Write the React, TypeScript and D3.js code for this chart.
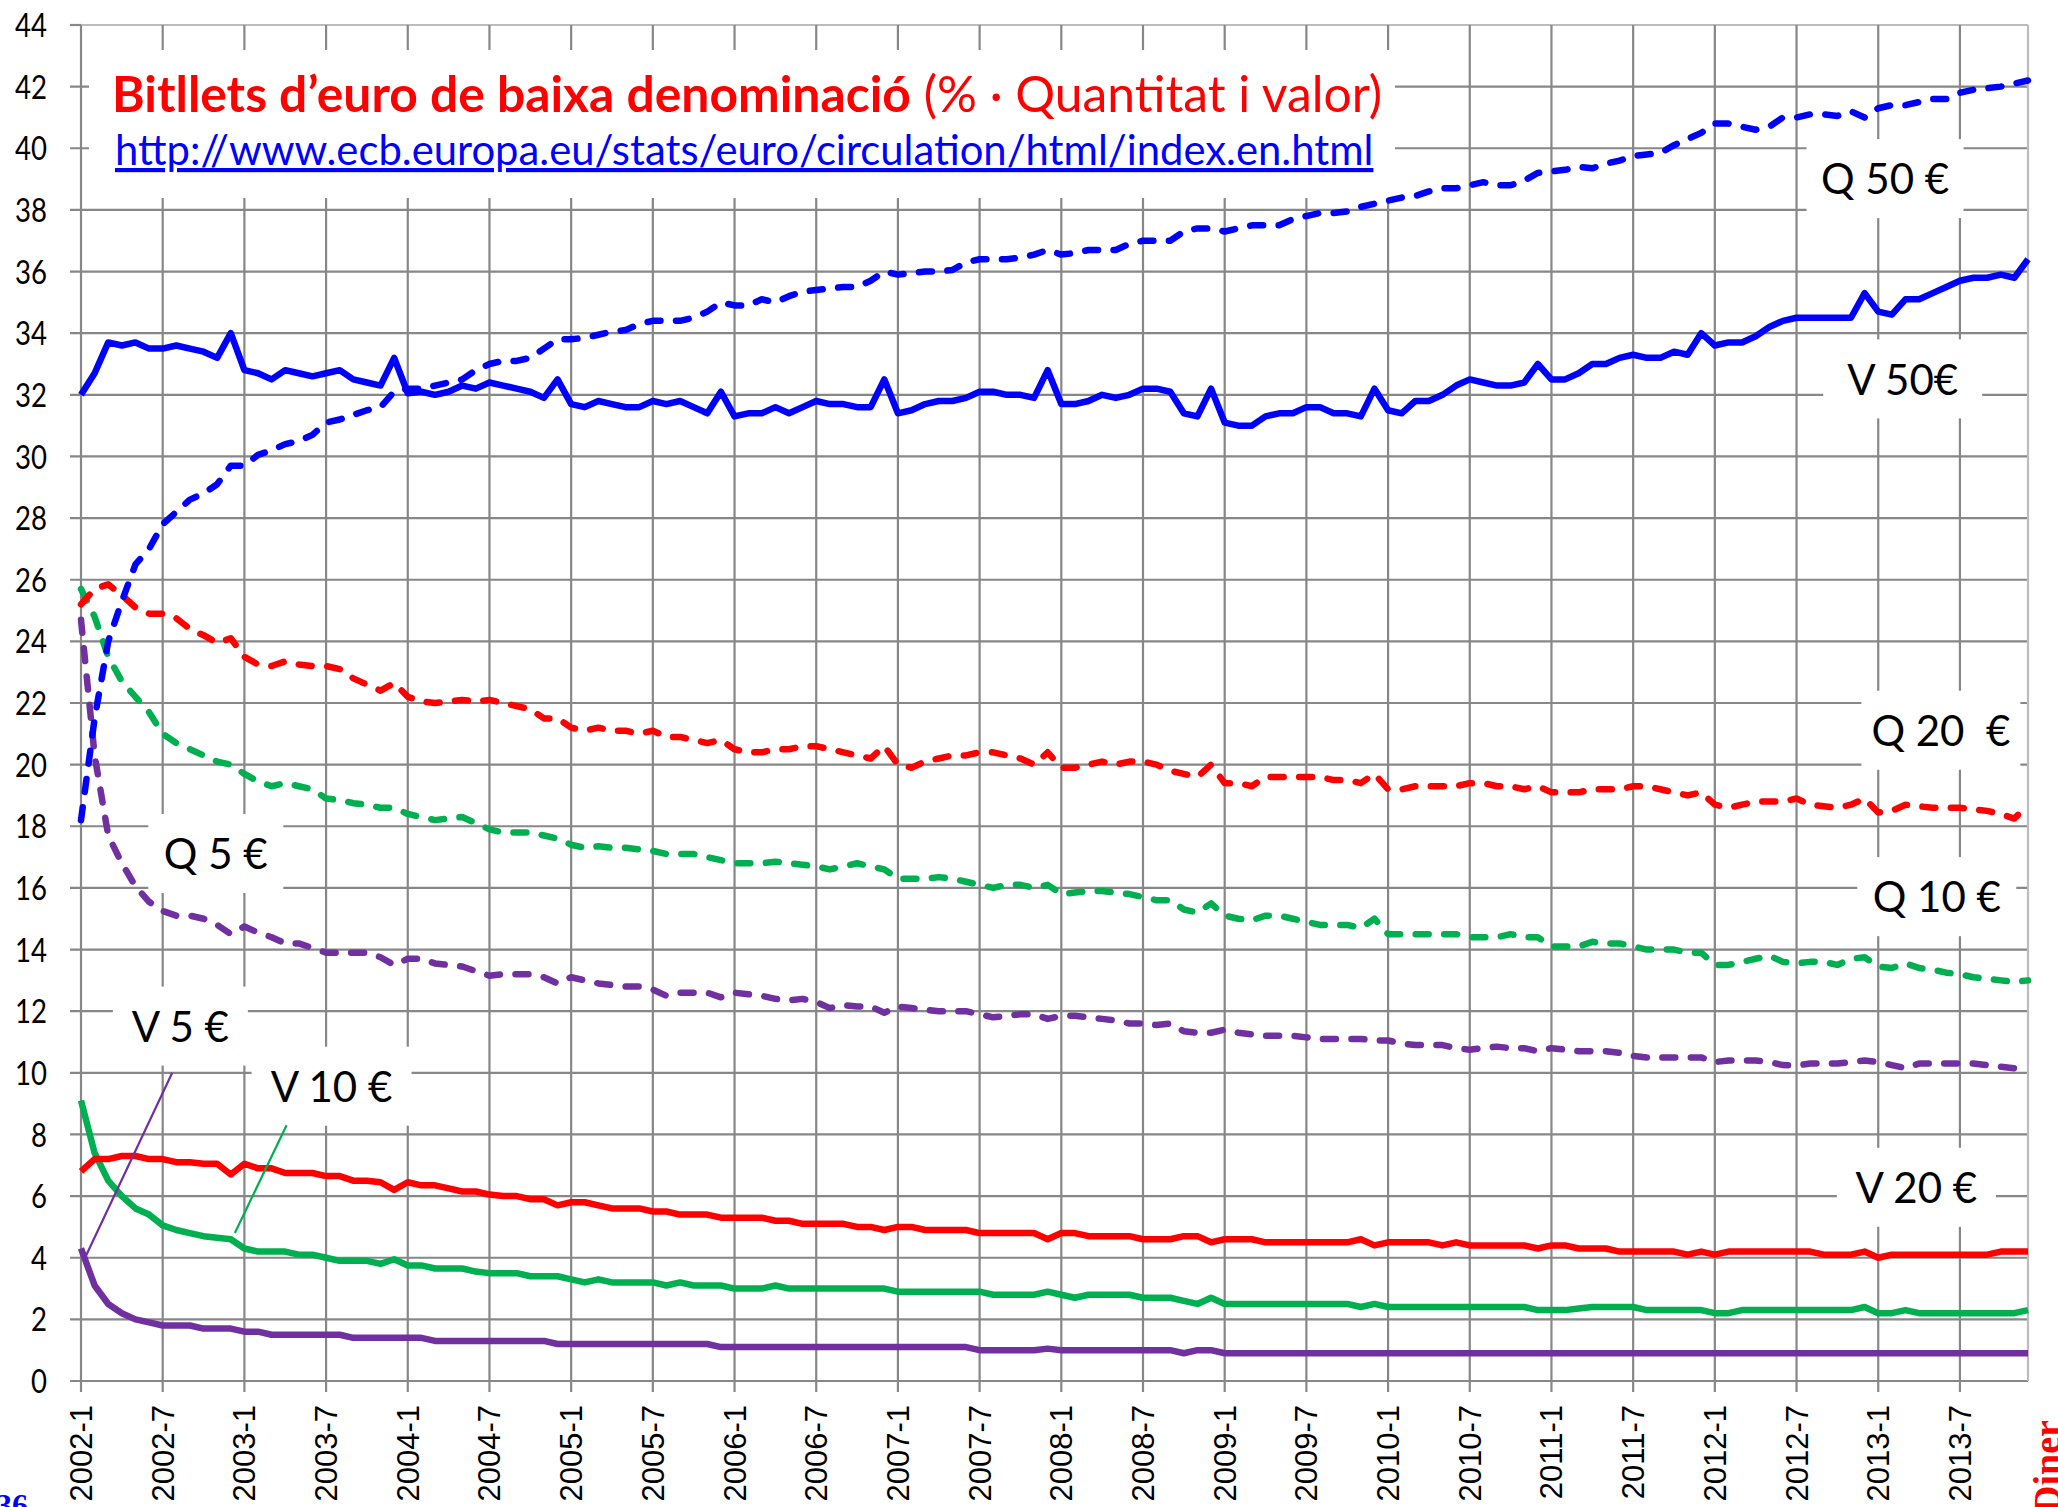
import { useEffect, useRef } from "react";
import * as d3 from "d3";

// x axis: one label every 6 months, 2002-1 .. 2013-12 is 144 monthly points
const tickLabels = [
  "2002-1", "2002-7", "2003-1", "2003-7", "2004-1", "2004-7", "2005-1", "2005-7",
  "2006-1", "2006-7", "2007-1", "2007-7", "2008-1", "2008-7", "2009-1", "2009-7",
  "2010-1", "2010-7", "2011-1", "2011-7", "2012-1", "2012-7", "2013-1", "2013-7",
];
const yTicks = [0, 2, 4, 6, 8, 10, 12, 14, 16, 18, 20, 22, 24, 26, 28, 30, 32, 34, 36, 38, 40, 42, 44];

// Q = quantitat (% of number of notes), V = valor (% of value)
const q50 = [
  18.2, 21.5, 24.0, 25.3, 26.5, 27.0, 27.8, 28.2, 28.6, 28.8, 29.1, 29.7,
  29.7, 30.05, 30.2, 30.4, 30.5, 30.7, 31.1, 31.2, 31.35, 31.5, 31.6, 32.1,
  32.2, 32.2, 32.3, 32.4, 32.5, 32.8, 33.0, 33.1, 33.1, 33.2, 33.5, 33.8,
  33.8, 33.85, 33.95, 34.05, 34.1, 34.3, 34.4, 34.4, 34.4, 34.5, 34.7, 35.0,
  34.9, 34.9, 35.1, 35.0, 35.2, 35.35, 35.4, 35.45, 35.5, 35.5, 35.7, 36.0,
  35.9, 35.95, 36.0, 36.0, 36.05, 36.3, 36.4, 36.4, 36.4, 36.45, 36.55, 36.7,
  36.55, 36.6, 36.7, 36.7, 36.7, 36.9, 37.0, 37.0, 37.0, 37.3, 37.4, 37.4,
  37.3, 37.4, 37.5, 37.5, 37.5, 37.7, 37.8, 37.9, 37.9, 37.95, 38.1, 38.2,
  38.3, 38.4, 38.45, 38.6, 38.7, 38.7, 38.8, 38.9, 38.8, 38.8, 38.95, 39.2,
  39.25, 39.3, 39.4, 39.35, 39.5, 39.6, 39.75, 39.8, 39.85, 40.1, 40.3, 40.5,
  40.8, 40.8, 40.7, 40.6, 40.7, 41.0, 41.0, 41.1, 41.1, 41.05, 41.2, 41.0,
  41.3, 41.4, 41.4, 41.5, 41.6, 41.6, 41.8, 41.9, 41.95, 42.0, 42.1, 42.2,
];
const v50 = [
  32.0, 32.7, 33.7, 33.6, 33.7, 33.5, 33.5, 33.6, 33.5, 33.4, 33.2, 34.0,
  32.8, 32.7, 32.5, 32.8, 32.7, 32.6, 32.7, 32.8, 32.5, 32.4, 32.3, 33.2,
  32.05, 32.1, 32.0, 32.1, 32.3, 32.2, 32.4, 32.3, 32.2, 32.1, 31.9, 32.5,
  31.7, 31.6, 31.8, 31.7, 31.6, 31.6, 31.8, 31.7, 31.8, 31.6, 31.4, 32.1,
  31.3, 31.4, 31.4, 31.6, 31.4, 31.6, 31.8, 31.7, 31.7, 31.6, 31.6, 32.5,
  31.4, 31.5, 31.7, 31.8, 31.8, 31.9, 32.1, 32.1, 32.0, 32.0, 31.9, 32.8,
  31.7, 31.7, 31.8, 32.0, 31.9, 32.0, 32.2, 32.2, 32.1, 31.4, 31.3, 32.2,
  31.1, 31.0, 31.0, 31.3, 31.4, 31.4, 31.6, 31.6, 31.4, 31.4, 31.3, 32.2,
  31.5, 31.4, 31.8, 31.8, 32.0, 32.3, 32.5, 32.4, 32.3, 32.3, 32.4, 33.0,
  32.5, 32.5, 32.7, 33.0, 33.0, 33.2, 33.3, 33.2, 33.2, 33.4, 33.3, 34.0,
  33.6, 33.7, 33.7, 33.9, 34.2, 34.4, 34.5, 34.5, 34.5, 34.5, 34.5, 35.3,
  34.7, 34.6, 35.1, 35.1, 35.3, 35.5, 35.7, 35.8, 35.8, 35.9, 35.8, 36.4,
];
const q20 = [
  25.2, 25.7, 25.85, 25.5, 25.1, 24.9, 24.9, 24.75, 24.4, 24.2, 23.95, 24.1,
  23.5, 23.25, 23.2, 23.35, 23.25, 23.2, 23.2, 23.1, 22.8, 22.6, 22.4, 22.65,
  22.2, 22.05, 22.0, 22.05, 22.1, 22.05, 22.1, 22.0, 21.9, 21.8, 21.5, 21.5,
  21.2, 21.1, 21.2, 21.1, 21.1, 21.0, 21.1, 20.9, 20.9, 20.8, 20.7, 20.8,
  20.5, 20.4, 20.4, 20.5, 20.5, 20.6, 20.6, 20.5, 20.4, 20.3, 20.2, 20.6,
  20.0, 19.9, 20.1, 20.2, 20.3, 20.3, 20.4, 20.4, 20.3, 20.2, 20.0, 20.4,
  19.9, 19.9, 20.0, 20.1, 20.0, 20.1, 20.1, 20.0, 19.8, 19.7, 19.6, 20.0,
  19.4, 19.4, 19.3, 19.6, 19.6, 19.6, 19.6, 19.6, 19.5, 19.5, 19.4, 19.7,
  19.2, 19.2, 19.3, 19.3, 19.3, 19.3, 19.4, 19.4, 19.3, 19.3, 19.2, 19.3,
  19.1, 19.1, 19.1, 19.2, 19.2, 19.2, 19.3, 19.3, 19.2, 19.1, 19.0, 19.1,
  18.7, 18.6, 18.7, 18.8, 18.8, 18.8, 18.9, 18.7, 18.65, 18.6, 18.7, 18.9,
  18.45, 18.5, 18.7, 18.65, 18.6, 18.6, 18.6, 18.55, 18.5, 18.4, 18.25, 18.7,
];
const v20 = [
  6.8, 7.2, 7.2, 7.3, 7.3, 7.2, 7.2, 7.1, 7.1, 7.05, 7.05, 6.7,
  7.05, 6.9, 6.9, 6.75, 6.75, 6.75, 6.65, 6.65, 6.5, 6.5, 6.45, 6.2,
  6.45, 6.35, 6.35, 6.25, 6.15, 6.15, 6.05, 6.0, 6.0, 5.9, 5.9, 5.7,
  5.8, 5.8, 5.7, 5.6, 5.6, 5.6, 5.5, 5.5, 5.4, 5.4, 5.4, 5.3,
  5.3, 5.3, 5.3, 5.2, 5.2, 5.1, 5.1, 5.1, 5.1, 5.0, 5.0, 4.9,
  5.0, 5.0, 4.9, 4.9, 4.9, 4.9, 4.8, 4.8, 4.8, 4.8, 4.8, 4.6,
  4.8, 4.8, 4.7, 4.7, 4.7, 4.7, 4.6, 4.6, 4.6, 4.7, 4.7, 4.5,
  4.6, 4.6, 4.6, 4.5, 4.5, 4.5, 4.5, 4.5, 4.5, 4.5, 4.6, 4.4,
  4.5, 4.5, 4.5, 4.5, 4.4, 4.5, 4.4, 4.4, 4.4, 4.4, 4.4, 4.3,
  4.4, 4.4, 4.3, 4.3, 4.3, 4.2, 4.2, 4.2, 4.2, 4.2, 4.1, 4.2,
  4.1, 4.2, 4.2, 4.2, 4.2, 4.2, 4.2, 4.2, 4.1, 4.1, 4.1, 4.2,
  4.0, 4.1, 4.1, 4.1, 4.1, 4.1, 4.1, 4.1, 4.1, 4.2, 4.2, 4.2,
];
const q10 = [
  25.7, 24.8, 23.5, 22.7, 22.2, 21.7, 21.0, 20.7, 20.5, 20.3, 20.1, 20.0,
  19.7, 19.45, 19.3, 19.4, 19.3, 19.2, 18.9, 18.85, 18.75, 18.7, 18.6, 18.6,
  18.4, 18.3, 18.2, 18.25, 18.3, 18.1, 17.9, 17.8, 17.8, 17.8, 17.7, 17.6,
  17.4, 17.3, 17.35, 17.3, 17.3, 17.25, 17.2, 17.1, 17.1, 17.1, 17.0, 16.9,
  16.8, 16.8, 16.8, 16.85, 16.8, 16.75, 16.7, 16.6, 16.7, 16.8, 16.7, 16.6,
  16.3, 16.3, 16.3, 16.35, 16.3, 16.2, 16.1, 16.0, 16.1, 16.1, 16.0, 16.1,
  15.8, 15.85, 15.9, 15.9, 15.85, 15.8, 15.7, 15.6, 15.6, 15.3, 15.2, 15.5,
  15.1, 15.0, 14.95, 15.1, 15.1, 15.0, 14.9, 14.8, 14.8, 14.8, 14.7, 15.0,
  14.5, 14.5, 14.5, 14.5, 14.5, 14.5, 14.4, 14.4, 14.4, 14.5, 14.4, 14.4,
  14.1, 14.1, 14.1, 14.25, 14.2, 14.2, 14.1, 14.0, 14.0, 14.0, 13.9, 13.9,
  13.5, 13.5, 13.6, 13.7, 13.8, 13.6, 13.55, 13.6, 13.6, 13.5, 13.7, 13.75,
  13.45, 13.4, 13.55, 13.4, 13.35, 13.25, 13.2, 13.1, 13.05, 13.0, 12.95, 13.0,
];
const v10 = [
  9.1, 7.4, 6.5, 6.0, 5.6, 5.4, 5.05, 4.9, 4.8, 4.7, 4.65, 4.6,
  4.3, 4.2, 4.2, 4.2, 4.1, 4.1, 4.0, 3.9, 3.9, 3.9, 3.8, 3.95,
  3.75, 3.75, 3.65, 3.65, 3.65, 3.55, 3.5, 3.5, 3.5, 3.4, 3.4, 3.4,
  3.3, 3.2, 3.3, 3.2, 3.2, 3.2, 3.2, 3.1, 3.2, 3.1, 3.1, 3.1,
  3.0, 3.0, 3.0, 3.1, 3.0, 3.0, 3.0, 3.0, 3.0, 3.0, 3.0, 3.0,
  2.9, 2.9, 2.9, 2.9, 2.9, 2.9, 2.9, 2.8, 2.8, 2.8, 2.8, 2.9,
  2.8, 2.7, 2.8, 2.8, 2.8, 2.8, 2.7, 2.7, 2.7, 2.6, 2.5, 2.7,
  2.5, 2.5, 2.5, 2.5, 2.5, 2.5, 2.5, 2.5, 2.5, 2.5, 2.4, 2.5,
  2.4, 2.4, 2.4, 2.4, 2.4, 2.4, 2.4, 2.4, 2.4, 2.4, 2.4, 2.3,
  2.3, 2.3, 2.35, 2.4, 2.4, 2.4, 2.4, 2.3, 2.3, 2.3, 2.3, 2.3,
  2.2, 2.2, 2.3, 2.3, 2.3, 2.3, 2.3, 2.3, 2.3, 2.3, 2.3, 2.4,
  2.2, 2.2, 2.3, 2.2, 2.2, 2.2, 2.2, 2.2, 2.2, 2.2, 2.2, 2.3,
];
const q5 = [
  24.7, 20.3, 17.7, 16.8, 16.05, 15.55, 15.25, 15.1, 15.1, 15.0, 14.8, 14.5,
  14.75, 14.55, 14.4, 14.2, 14.2, 14.05, 13.9, 13.9, 13.9, 13.9, 13.75, 13.5,
  13.7, 13.7, 13.55, 13.5, 13.45, 13.3, 13.15, 13.2, 13.2, 13.2, 13.1, 12.9,
  13.1, 13.0, 12.9, 12.85, 12.8, 12.8, 12.7, 12.5, 12.6, 12.6, 12.6, 12.45,
  12.6, 12.55, 12.5, 12.4, 12.35, 12.4, 12.3, 12.1, 12.2, 12.15, 12.15, 11.95,
  12.15, 12.1, 12.05, 12.0, 12.0, 12.0, 11.9, 11.8, 11.85, 11.9, 11.9, 11.75,
  11.85, 11.85, 11.8, 11.75, 11.7, 11.6, 11.6, 11.55, 11.6, 11.35, 11.3, 11.3,
  11.4, 11.3, 11.25, 11.2, 11.2, 11.2, 11.15, 11.1, 11.1, 11.1, 11.1, 11.05,
  11.05, 10.95, 10.9, 10.9, 10.9, 10.8, 10.75, 10.8, 10.85, 10.8, 10.8, 10.7,
  10.8, 10.75, 10.7, 10.7, 10.7, 10.65, 10.55, 10.5, 10.5, 10.5, 10.5, 10.5,
  10.35, 10.4, 10.4, 10.4, 10.35, 10.25, 10.24, 10.3, 10.3, 10.3, 10.35, 10.4,
  10.35, 10.25, 10.15, 10.3, 10.3, 10.3, 10.3, 10.3, 10.25, 10.2, 10.15, 10.1,
];
const v5 = [
  4.3, 3.1, 2.5, 2.2, 2.0, 1.9, 1.8, 1.8, 1.8, 1.7, 1.7, 1.7,
  1.6, 1.6, 1.5, 1.5, 1.5, 1.5, 1.5, 1.5, 1.4, 1.4, 1.4, 1.4,
  1.4, 1.4, 1.3, 1.3, 1.3, 1.3, 1.3, 1.3, 1.3, 1.3, 1.3, 1.2,
  1.2, 1.2, 1.2, 1.2, 1.2, 1.2, 1.2, 1.2, 1.2, 1.2, 1.2, 1.1,
  1.1, 1.1, 1.1, 1.1, 1.1, 1.1, 1.1, 1.1, 1.1, 1.1, 1.1, 1.1,
  1.1, 1.1, 1.1, 1.1, 1.1, 1.1, 1.0, 1.0, 1.0, 1.0, 1.0, 1.05,
  1.0, 1.0, 1.0, 1.0, 1.0, 1.0, 1.0, 1.0, 1.0, 0.9, 1.0, 1.0,
  0.9, 0.9, 0.9, 0.9, 0.9, 0.9, 0.9, 0.9, 0.9, 0.9, 0.9, 0.9,
  0.9, 0.9, 0.9, 0.9, 0.9, 0.9, 0.9, 0.9, 0.9, 0.9, 0.9, 0.9,
  0.9, 0.9, 0.9, 0.9, 0.9, 0.9, 0.9, 0.9, 0.9, 0.9, 0.9, 0.9,
  0.9, 0.9, 0.9, 0.9, 0.9, 0.9, 0.9, 0.9, 0.9, 0.9, 0.9, 0.9,
  0.9, 0.9, 0.9, 0.9, 0.9, 0.9, 0.9, 0.9, 0.9, 0.9, 0.9, 0.9,
];

const BLUE = "#0000ff", RED = "#ff0000", GREEN = "#00b050", PURPLE = "#7030a0";

const series = [
  { values: v5, color: PURPLE, dashed: false },
  { values: v10, color: GREEN, dashed: false },
  { values: v20, color: RED, dashed: false },
  { values: q5, color: PURPLE, dashed: true },
  { values: q10, color: GREEN, dashed: true },
  { values: q20, color: RED, dashed: true },
  { values: v50, color: BLUE, dashed: false },
  { values: q50, color: BLUE, dashed: true },
];

// text boxes, placed in data units (month index, percent)
const labels = [
  { text: "Q 50 €", i: 132.5, v: 39.0, w: 157 },
  { text: "V 50€", i: 133.8, v: 32.5, w: 159 },
  { text: "Q 20  €", i: 136.6, v: 21.1, w: 159 },
  { text: "Q 10 €", i: 136.3, v: 15.7, w: 159 },
  { text: "V 20 €", i: 134.8, v: 6.27, w: 159 },
  { text: "Q 5 €", i: 9.9, v: 17.1, w: 135 },
  { text: "V 5 €", i: 7.3, v: 11.5, w: 135 },
  { text: "V 10 €", i: 18.4, v: 9.55, w: 160 },
];
const leaders = [
  { from: [6.7, 10.0], to: [0.35, 4.05], color: PURPLE },
  { from: [15.1, 8.3], to: [11.3, 4.8], color: GREEN },
];

function Chart() {
  const ref = useRef<HTMLDivElement>(null);

  useEffect(() => {
    const width = 2058;
    const height = 1507;
    const margin = { top: 25, right: 30, bottom: 126, left: 81 };
    const gridColor = "#878787";
    const edgeColor = "#bcbcbc";
    ref.current!.innerHTML = "";

    const svg = d3.select(ref.current).append("svg")
      .attr("width", width)
      .attr("height", height)
      .style("display", "block")
      .style("background", "#fff");

    const x = d3.scaleLinear().domain([0, 143]).range([margin.left, width - margin.right]);
    const y = d3.scaleLinear().domain([0, 44]).range([height - margin.bottom, margin.top]);
    const x0 = x(0), x1 = x(143), yb = y(0), yt = y(44);

    // horizontal grid + left ticks
    yTicks.forEach(t => {
      svg.append("line")
        .attr("x1", x0 - 11).attr("x2", t === 44 ? x0 : x1)
        .attr("y1", y(t)).attr("y2", y(t))
        .attr("stroke", gridColor).attr("stroke-width", 2.2);
      if (t === 44) {
        svg.append("line").attr("x1", x0).attr("x2", x1)
          .attr("y1", y(t)).attr("y2", y(t))
          .attr("stroke", edgeColor).attr("stroke-width", 2.2);
      }
      // narrow, tall digits like the original Calibri labels
      svg.append("text")
        .attr("transform", `translate(47,${y(t)})scale(0.92,1.12)`)
        .attr("dy", "0.36em")
        .attr("text-anchor", "end")
        .attr("font-family", "Lato, sans-serif").attr("font-size", 30)
        .attr("fill", "#000")
        .text(t);
    });

    // vertical grid + bottom ticks + labels
    tickLabels.forEach((lab, k) => {
      const gx = x(k * 6);
      svg.append("line")
        .attr("x1", gx).attr("x2", gx).attr("y1", yt).attr("y2", yb + 11)
        .attr("stroke", gridColor).attr("stroke-width", 2.2);
      svg.append("text")
        .attr("transform", `translate(${gx + 11},${yb + 24})rotate(-90)`)
        .attr("text-anchor", "end")
        .attr("font-family", "'Liberation Sans', Arial, sans-serif").attr("font-size", 31)
        .attr("fill", "#000")
        .text(lab);
    });
    svg.append("line")
      .attr("x1", x1).attr("x2", x1).attr("y1", yt).attr("y2", yb)
      .attr("stroke", edgeColor).attr("stroke-width", 2.2);

    // title box
    svg.append("rect").attr("x", 89).attr("y", 50).attr("width", 1306).attr("height", 148).attr("fill", "#fff");

    // label boxes
    labels.forEach(l => {
      svg.append("rect")
        .attr("x", x(l.i) - l.w / 2).attr("y", y(l.v) - 40)
        .attr("width", l.w).attr("height", 79)
        .attr("fill", "#fff");
    });

    const line = d3.line<number>().x((d, i) => x(i)).y(d => y(d));
    series.forEach(s => {
      svg.append("path")
        .attr("d", line(s.values))
        .attr("fill", "none")
        .attr("stroke", s.color)
        .attr("stroke-width", 6.5)
        .attr("stroke-linejoin", "round")
        .attr("stroke-linecap", s.dashed ? "round" : "butt")
        .attr("stroke-dasharray", s.dashed ? "13 15.5" : null);
    });

    leaders.forEach(l => {
      svg.append("line")
        .attr("x1", x(l.from[0])).attr("y1", y(l.from[1]))
        .attr("x2", x(l.to[0])).attr("y2", y(l.to[1]))
        .attr("stroke", l.color).attr("stroke-width", 2.2);
    });

    labels.forEach(l => {
      svg.append("text")
        .attr("x", x(l.i)).attr("y", y(l.v)).attr("dy", "0.36em")
        .attr("text-anchor", "middle")
        .attr("font-family", "Lato, sans-serif").attr("font-size", 42)
        .attr("fill", "#000")
        .style("white-space", "pre")
        .text(l.text);
    });

    // title
    const title = svg.append("text")
      .attr("x", 112).attr("y", 112)
      .attr("font-family", "Lato, sans-serif").attr("font-size", 49.8)
      .attr("fill", RED)
      .style("white-space", "pre");
    title.append("tspan").attr("font-weight", 700).text("Bitllets d’euro de baixa denominació");
    title.append("tspan").attr("font-weight", 400).text(" (% · Quantitat i valor)");

    svg.append("text")
      .attr("x", 115).attr("y", 165)
      .attr("font-family", "Lato, sans-serif").attr("font-size", 41.8)
      .attr("fill", BLUE)
      .attr("text-decoration", "underline")
      .text("http://www.ecb.europa.eu/stats/euro/circulation/html/index.en.html");

    // page artefacts at the bottom corners (cut by the page edge, as in the scan)
    svg.append("text")
      .attr("x", -4).attr("y", 1516)
      .attr("font-family", "'Liberation Serif', serif").attr("font-weight", 700).attr("font-size", 32)
      .attr("fill", BLUE)
      .text("36");
    svg.append("text")
      .attr("transform", `translate(2060,${yb + 39})rotate(-90)`)
      .attr("text-anchor", "end")
      .attr("font-family", "'Liberation Serif', serif").attr("font-weight", 700).attr("font-size", 38)
      .attr("fill", RED)
      .text("Diner");
  }, []);

  return <div ref={ref} style={{ position: "absolute", left: 0, top: 0 }} />;
}

export default function App() {
  return <Chart />;
}
